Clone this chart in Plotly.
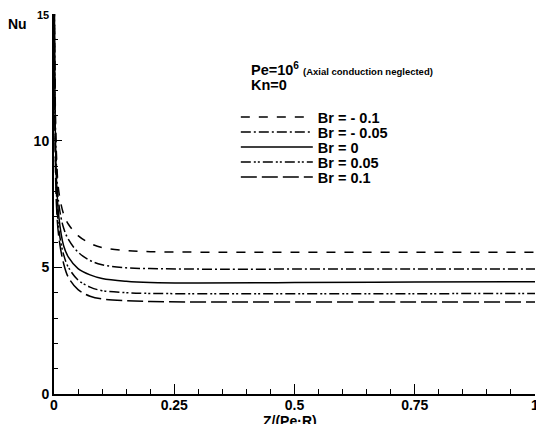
import plotly.graph_objects as go

z = [0.0005, 0.002, 0.005, 0.01, 0.02, 0.03, 0.05, 0.075, 0.1, 0.15, 0.2, 0.3, 0.5, 0.75, 1.0]
nu_m010 = [16, 12.5, 9.5, 8.0, 7.1, 6.7, 6.25, 5.95, 5.78, 5.66, 5.62, 5.6, 5.6, 5.6, 5.6]
nu_m005 = [16, 12.0, 9.0, 7.5, 6.55, 6.1, 5.6, 5.27, 5.1, 4.98, 4.95, 4.93, 4.93, 4.93, 4.93]
nu_0 = [16, 11.5, 8.5, 7.0, 5.85, 5.4, 4.95, 4.7, 4.56, 4.45, 4.4, 4.38, 4.4, 4.42, 4.43]
nu_p005 = [16, 11.0, 8.0, 6.5, 5.5, 5.0, 4.5, 4.22, 4.08, 4.0, 3.97, 3.96, 3.96, 3.96, 3.97]
nu_p010 = [16, 10.5, 7.5, 6.2, 5.15, 4.6, 4.12, 3.86, 3.75, 3.68, 3.65, 3.63, 3.63, 3.63, 3.63]

names = ["Br = - 0.1", "Br = - 0.05", "Br = 0", "Br = 0.05", "Br = 0.1"]
series = [nu_m010, nu_m005, nu_0, nu_p005, nu_p010]
dashes = ["9px,9px", "10px,3px,2px,3px", "solid", "10px,3px,2px,2px,2px,3px", "16px,5px"]

xticks = [0, 0.25, 0.5, 0.75, 1]
xticklabels = ["0", "0.25", "0.5", "0.75", "1"]
yticks = [0, 5, 10, 15]
yticklabels = ["0", "5", "10", "<span style='font-size:11px'>15</span>"]

fam = "Liberation Sans, Arial, sans-serif"
font = dict(family=fam, size=14, color="black", weight="bold")
font_big = dict(family=fam, size=14.5, color="black", weight="bold")

fig = go.Figure()
legend_ids = ["legend", "legend2", "legend3", "legend4", "legend5"]
for n, s, d, lg in zip(names, series, dashes, legend_ids):
    fig.add_trace(go.Scatter(x=z, y=s, mode="lines", name=n, legend=lg,
                             line=dict(color="black", width=1.5, dash=d, shape="spline")))

legend_layout = {}
for i, lg in enumerate(legend_ids):
    ypix = 117 + 15 * i
    legend_layout[lg] = dict(x=0.378, y=(394 - ypix) / 380, xanchor="left", yanchor="middle",
                             bgcolor="rgba(0,0,0,0)", itemwidth=72, font=font_big,
                             itemclick=False, itemdoubleclick=False)

fig.update_layout(
    width=536, height=424,
    margin=dict(l=54, r=1, t=14, b=30, autoexpand=False),
    plot_bgcolor="white", paper_bgcolor="white",
    font=font,
    showlegend=True,
    xaxis=dict(range=[0, 1], tickvals=xticks, ticktext=xticklabels, automargin=False,
               ticklabeloverflow="allow", ticklabelstandoff=-3,
               ticks="inside", ticklen=10, tickcolor="black", tickwidth=1,
               showline=True, linecolor="black", linewidth=2, showgrid=False, zeroline=False,
               minor=dict(dtick=0.05, ticks="inside", ticklen=5, tickcolor="black", showgrid=False),
               tickfont=font),
    yaxis=dict(range=[0, 15], tickvals=yticks, ticktext=yticklabels, automargin=False,
               ticklabeloverflow="allow",
               ticks="inside", ticklen=8, tickcolor="black", tickwidth=1,
               showline=True, linecolor="black", linewidth=2, showgrid=False, zeroline=False,
               minor=dict(dtick=1, ticks="inside", ticklen=4, tickcolor="black", showgrid=False),
               tickfont=font),
    annotations=[
        dict(text="Nu", xref="paper", yref="paper", x=-0.075, y=0.975, showarrow=False,
             xanchor="center", yanchor="middle", font=font),
        dict(text="Z/(Pe·R)", xref="paper", yref="paper", x=0.49, y=-0.046, showarrow=False,
             xanchor="center", yanchor="top", font=font),
        dict(text="Pe=10<sup>6</sup> <span style='font-size:9.5px'>(Axial conduction neglected)</span>",
             xref="paper", yref="paper", x=0.405, y=0.855, showarrow=False,
             xanchor="left", yanchor="middle", font=font_big),
        dict(text="Kn=0", xref="paper", yref="paper", x=0.405, y=0.812, showarrow=False,
             xanchor="left", yanchor="middle", font=font_big),
    ],
    **legend_layout,
)

fig.write_html("out.html", config={"displayModeBar": False},
               post_script="document.body.style.margin='0';document.body.style.overflow='hidden';")
